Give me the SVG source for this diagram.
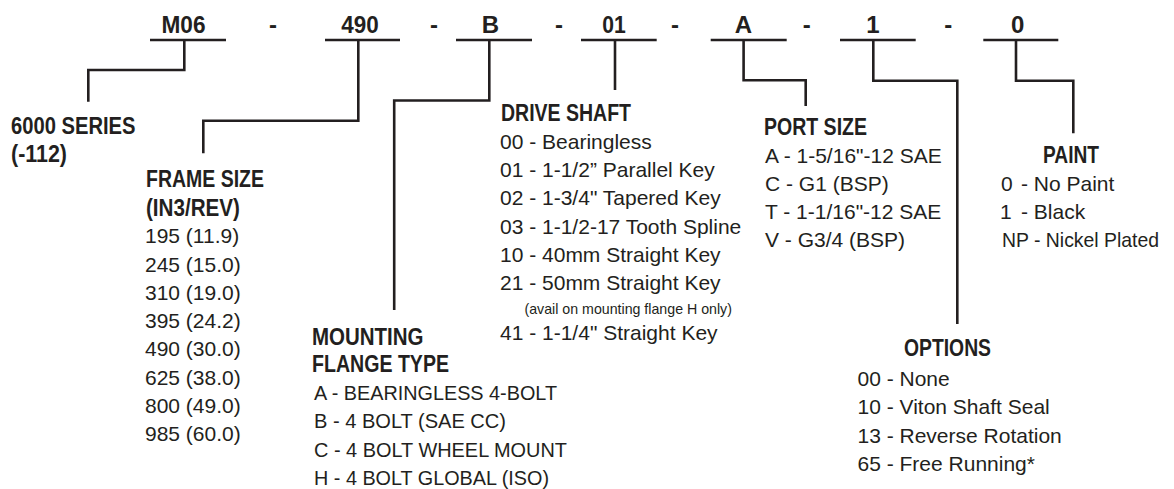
<svg xmlns="http://www.w3.org/2000/svg" width="1174" height="489" viewBox="0 0 1174 489">
<style>
.bg{fill:#ffffff}
.code{font-family:"Liberation Sans",Arial,sans-serif;font-weight:bold;font-size:24px;fill:#231f20;text-anchor:middle}
.hd{font-family:"Liberation Sans",Arial,sans-serif;font-weight:bold;font-size:24px;fill:#231f20}
.tx{font-family:"Liberation Sans",Arial,sans-serif;font-size:21px;fill:#231f20}
.sm{font-family:"Liberation Sans",Arial,sans-serif;font-size:14.2px;fill:#231f20}
.ul{stroke:#231f20;stroke-width:2.6;fill:none}
.cn{stroke:#231f20;stroke-width:2.6;fill:none;stroke-linejoin:miter;stroke-linecap:butt}
</style>
<rect class="bg" x="0" y="0" width="1174" height="489"/>

<g id="code-m06"><text class="code" x="183.5" y="33.3" textLength="44" lengthAdjust="spacingAndGlyphs">M06</text><line class="ul" x1="150" y1="40" x2="226" y2="40"/></g>
<g id="dash-1"><text class="code" x="273" y="33.3">-</text></g>
<g id="code-490"><text class="code" x="360" y="33.3" textLength="37.5" lengthAdjust="spacingAndGlyphs">490</text><line class="ul" x1="325" y1="40" x2="400" y2="40"/></g>
<g id="dash-2"><text class="code" x="434" y="33.3">-</text></g>
<g id="code-b"><text class="code" x="490.5" y="33.3">B</text><line class="ul" x1="456" y1="40" x2="532" y2="40"/></g>
<g id="dash-3"><text class="code" x="559" y="33.3">-</text></g>
<g id="code-01"><text class="code" x="614" y="33.3" textLength="23.5" lengthAdjust="spacingAndGlyphs">01</text><line class="ul" x1="581" y1="40" x2="656.7" y2="40"/></g>
<g id="dash-4"><text class="code" x="675" y="33.3">-</text></g>
<g id="code-a"><text class="code" x="743.5" y="33.3">A</text><line class="ul" x1="710.7" y1="40" x2="786.7" y2="40"/></g>
<g id="dash-5"><text class="code" x="806.7" y="33.3">-</text></g>
<g id="code-1"><text class="code" x="873" y="33.3">1</text><line class="ul" x1="840" y1="40" x2="915.7" y2="40"/></g>
<g id="dash-6"><text class="code" x="948.3" y="33.3">-</text></g>
<g id="code-0"><text class="code" x="1017.8" y="33.3">0</text><line class="ul" x1="983.3" y1="40" x2="1058.3" y2="40"/></g>

<g id="connectors">
<path class="cn" d="M184.3,40 V70 H88.3 V101.7"/>
<path class="cn" d="M358.3,40 V120.7 H203.3 V153.3"/>
<path class="cn" d="M489.3,40 V100.5 H394.2 V310"/>
<path class="cn" d="M615,40 V90"/>
<path class="cn" d="M743.6,40 V80.3 H805.7 V106"/>
<path class="cn" d="M873.3,40 V80.7 H957.3 V324"/>
<path class="cn" d="M1016,40 V80.7 H1073.3 V133.3"/>
</g>

<g id="series">
<text class="hd" x="11" y="134" textLength="124.5" lengthAdjust="spacingAndGlyphs">6000 SERIES</text>
<text class="hd" x="11" y="162" textLength="56" lengthAdjust="spacingAndGlyphs">(-112)</text>
</g>

<g id="frame-size">
<text class="hd" x="146" y="187.3" textLength="118" lengthAdjust="spacingAndGlyphs">FRAME SIZE</text>
<text class="hd" x="146" y="215.5" textLength="94" lengthAdjust="spacingAndGlyphs">(IN3/REV)</text>
<text class="tx" x="145" y="243.3">195 (11.9)</text>
<text class="tx" x="145" y="271.6">245 (15.0)</text>
<text class="tx" x="145" y="299.8">310 (19.0)</text>
<text class="tx" x="145" y="328.1">395 (24.2)</text>
<text class="tx" x="145" y="356.3">490 (30.0)</text>
<text class="tx" x="145" y="384.6">625 (38.0)</text>
<text class="tx" x="145" y="412.8">800 (49.0)</text>
<text class="tx" x="145" y="441.1">985 (60.0)</text>
</g>

<g id="mounting-flange">
<text class="hd" x="312" y="345" textLength="111.5" lengthAdjust="spacingAndGlyphs">MOUNTING</text>
<text class="hd" x="312" y="371.7" textLength="137" lengthAdjust="spacingAndGlyphs">FLANGE TYPE</text>
<text class="tx" x="314" y="400" textLength="243" lengthAdjust="spacingAndGlyphs">A - BEARINGLESS 4-BOLT</text>
<text class="tx" x="314" y="428.3" textLength="192" lengthAdjust="spacingAndGlyphs">B - 4 BOLT (SAE CC)</text>
<text class="tx" x="314" y="456.7" textLength="253" lengthAdjust="spacingAndGlyphs">C - 4 BOLT WHEEL MOUNT</text>
<text class="tx" x="314" y="485" textLength="235" lengthAdjust="spacingAndGlyphs">H - 4 BOLT GLOBAL (ISO)</text>
</g>

<g id="drive-shaft">
<text class="hd" x="501" y="120.7" textLength="130" lengthAdjust="spacingAndGlyphs">DRIVE SHAFT</text>
<text class="tx" x="500" y="148.8">00 - Bearingless</text>
<text class="tx" x="500" y="177">01 - 1-1/2” Parallel Key</text>
<text class="tx" x="500" y="205.3">02 - 1-3/4" Tapered Key</text>
<text class="tx" x="500" y="233.6">03 - 1-1/2-17 Tooth Spline</text>
<text class="tx" x="500" y="262">10 - 40mm Straight Key</text>
<text class="tx" x="500" y="290.3">21 - 50mm Straight Key</text>
<text class="sm" x="524.5" y="313.5">(avail on mounting flange H only)</text>
<text class="tx" x="500" y="340">41 - 1-1/4" Straight Key</text>
</g>

<g id="port-size">
<text class="hd" x="764" y="135" textLength="103" lengthAdjust="spacingAndGlyphs">PORT SIZE</text>
<text class="tx" x="765" y="162.7">A - 1-5/16"-12 SAE</text>
<text class="tx" x="765" y="190.8">C - G1 (BSP)</text>
<text class="tx" x="765" y="218.9">T - 1-1/16"-12 SAE</text>
<text class="tx" x="765" y="247">V - G3/4 (BSP)</text>
</g>

<g id="paint">
<text class="hd" x="1043" y="162.7" textLength="56" lengthAdjust="spacingAndGlyphs">PAINT</text>
<text class="tx" x="1001" y="190.8">0</text>
<text class="tx" x="1021" y="190.8">- No Paint</text>
<text class="tx" x="1000" y="218.9">1</text>
<text class="tx" x="1021" y="218.9">- Black</text>
<text class="tx" x="1002" y="247" textLength="157" lengthAdjust="spacingAndGlyphs">NP - Nickel Plated</text>
</g>

<g id="options">
<text class="hd" x="904" y="356" textLength="87" lengthAdjust="spacingAndGlyphs">OPTIONS</text>
<text class="tx" x="857.5" y="385.7">00 - None</text>
<text class="tx" x="857.5" y="414">10 - Viton Shaft Seal</text>
<text class="tx" x="857.5" y="442.7">13 - Reverse Rotation</text>
<text class="tx" x="857.5" y="470.7">65 - Free Running*</text>
</g>
</svg>
